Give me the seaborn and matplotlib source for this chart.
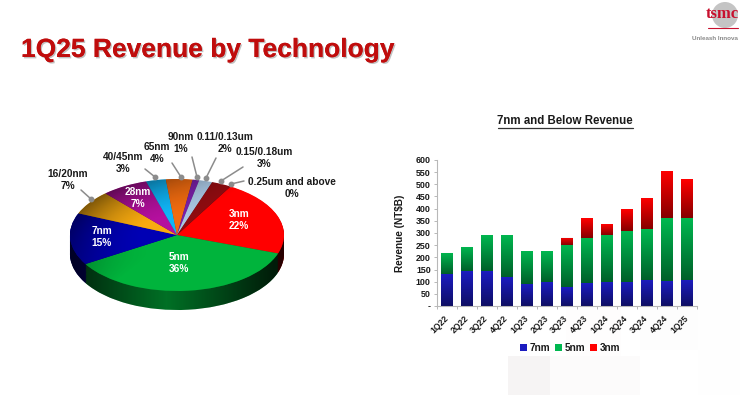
import numpy as np
import pandas as pd
import matplotlib
matplotlib.use('Agg')
import matplotlib.pyplot as plt
import matplotlib.patheffects as pe
from matplotlib.colors import to_rgb
from matplotlib.patches import Rectangle, Circle, Polygon
import seaborn as sns

# pie data, clockwise from the 3nm wedge
nodes = ['3nm', '5nm', '7nm', '16/20nm', '28nm', '40/45nm', '65nm', '90nm',
         '0.11/0.13um', '0.15/0.18um', '0.25um and above']
shares = [22, 36, 15, 7, 7, 3, 4, 1, 2, 3, 0]
node_colors = ['#ff0000', '#00b43c', '#0000b4', '#f8aa10', '#b4109e', '#10b6f8',
               '#f26c10', '#7a20a8', '#a8c6e2', '#8e0c10', '#808080']

# bar data
quarters = ['1Q22', '2Q22', '3Q22', '4Q22', '1Q23', '2Q23', '3Q23',
            '4Q23', '1Q24', '2Q24', '3Q24', '4Q24', '1Q25']
rev_7nm = [130, 142, 142, 118, 90, 97, 77, 93, 100, 100, 108, 104, 107]
rev_5nm = [88, 101, 149, 173, 138, 127, 174, 188, 191, 210, 207, 256, 255]
rev_3nm = [0, 0, 0, 0, 0, 0, 29, 79, 45, 90, 129, 195, 160]

W, H = 740, 395

sns.set_theme(style='white')
plt.rcParams['font.family'] = ['Liberation Sans', 'DejaVu Sans']

fig = plt.figure(figsize=(W / 100, H / 100), dpi=100, facecolor='white')


def px_axes(left, top, right, bottom, **kw):
    return fig.add_axes([left / W, 1 - bottom / H, (right - left) / W, (bottom - top) / H], **kw)


# overlay in pixel coords for slide furniture and labels
bg = px_axes(0, 0, W, H)
bg.set_xlim(0, W)
bg.set_ylim(H, 0)
bg.axis('off')

for x0, y0, w, h, c in [(508, 356, 42, 39, '#f6f4f4'), (550, 356, 90, 39, '#fcfbfb'),
                        (566, 300, 55, 56, '#fefdfd'), (640, 270, 58, 80, '#fdfdfd'),
                        (698, 270, 42, 125, '#fefefe')]:
    bg.add_patch(Rectangle((x0, y0), w, h, fc=c, ec='none', zorder=0))

bg.text(21, 50, '1Q25 Revenue by Technology', color='#c00d0d', fontsize=19, fontweight='bold',
        va='center', ha='left',
        path_effects=[pe.withSimplePatchShadow(offset=(1, -1), shadow_rgbFace='#999999', alpha=0.6), pe.Normal()])

# logo
bg.add_patch(Circle((725, 15), 13, fc='#c4c4c4', ec='none', zorder=1))
bg.text(722, 14, 'tsmc', color='#c8102e', fontsize=12, fontweight='bold', family='Liberation Serif',
        ha='center', va='center', zorder=2)
bg.plot([708, 738], [28, 28], color='#c8102e', lw=0.8)
bg.text(692, 39, 'Unleash Innova', color='#8a8a8a', fontsize=4.5, fontweight='bold', va='center')

# pie, squashed by giving the axes unequal pixel scales
rx, ry = 107, 56
cx, cy = 177, 235
depth = 19 / ry
pie_ax = px_axes(cx - 1.3 * rx, cy - 1.3 * ry, cx + 1.3 * rx, cy + 1.7 * ry)

side_colors = [tuple(0.62 * v for v in to_rgb(c)) for c in node_colors]
for d in np.linspace(depth, 0.01, 24):
    pie_ax.pie(shares, colors=side_colors, startangle=60, counterclock=False, center=(0, -d),
               wedgeprops={'linewidth': 0})

xg, yg = np.meshgrid(np.linspace(-1.05, 1.05, 220), np.linspace(-1.5, 1.05, 220))

# side shading
t = np.linspace(np.pi, 2 * np.pi, 120)
side_poly = np.r_[np.c_[np.cos(t), np.sin(t) - depth], np.c_[np.cos(t[::-1]), np.sin(t[::-1])]]
side_clip = Polygon(side_poly, transform=pie_ax.transData, fc='none', ec='none')
pie_ax.add_patch(side_clip)
shade = np.zeros(xg.shape + (4,))
shade[..., 3] = np.clip(np.abs(xg + 0.1) * 0.75, 0, 0.75)
im = pie_ax.imshow(shade, extent=(-1.05, 1.05, -1.5, 1.05), origin='lower', aspect='auto', zorder=2)
im.set_clip_path(side_clip)

# top face
wedges, _ = pie_ax.pie(shares, colors=node_colors, startangle=60, counterclock=False,
                       wedgeprops={'linewidth': 0})
for w_ in wedges:
    w_.set_zorder(3)

face_clip = Circle((0, 0), 1, transform=pie_ax.transData, fc='none', ec='none')
pie_ax.add_patch(face_clip)
shade2 = np.zeros(xg.shape + (4,))
rr = np.hypot(xg, yg)
shade2[..., 3] = 0.5 * np.clip((rr - 0.35) / 0.65, 0, 1) * np.clip(-0.8 * xg + 0.55 * yg, 0, 1)
im2 = pie_ax.imshow(shade2, extent=(-1.05, 1.05, -1.5, 1.05), origin='lower', aspect='auto', zorder=4)
im2.set_clip_path(face_clip)

pie_ax.set_aspect('auto')
pie_ax.set_xlim(-1.3, 1.3)
pie_ax.set_ylim(-1.7, 1.3)
pie_ax.patch.set_alpha(0)

# label overlay above the pie
lab = px_axes(0, 0, W, H)
lab.set_xlim(0, W)
lab.set_ylim(H, 0)
lab.axis('off')
lab.patch.set_alpha(0)

inner_pos = {'3nm': (239, 220), '5nm': (179, 263), '7nm': (102, 237), '28nm': (138, 198)}
outer_pos = {'16/20nm': (68, 180), '40/45nm': (123, 163), '65nm': (157, 153), '90nm': (181, 143),
             '0.11/0.13um': (225, 143), '0.15/0.18um': (264, 158), '0.25um and above': (292, 188)}
leaders = {'16/20nm': ((81, 190), (91, 199)), '40/45nm': ((145, 169), (155, 177)),
           '65nm': ((172, 163), (181, 177)), '90nm': ((192, 157), (197, 177)),
           '0.11/0.13um': ((216, 158), (206, 178)), '0.15/0.18um': ((243, 167), (221, 181)),
           '0.25um and above': ((244, 181), (231, 184))}

for name, share in zip(nodes, shares):
    s = f'{name}\n{share}%'
    if name in inner_pos:
        x, y = inner_pos[name]
        lab.text(x, y, s, color='white', fontsize=7.3, fontweight='bold', ha='center', va='center', linespacing=1.15)
    else:
        x, y = outer_pos[name]
        lab.text(x, y, s, color='#1a1a1a', fontsize=7.3, fontweight='bold', ha='center', va='center', linespacing=1.15)
        (x0, y0), (x1, y1) = leaders[name]
        lab.plot([x0, x1], [y0, y1], color='#8c8c8c', lw=1.1)
        lab.plot([x1], [y1], 'o', color='#8c8c8c', ms=3.2)

lab.text(565, 121, '7nm and Below Revenue', color='#1a1a1a', fontsize=8.3, fontweight='bold', ha='center', va='center')
lab.plot([498, 633], [127.5, 127.5], color='#333333', lw=0.9)

# stacked bars
ax = px_axes(437, 160, 697, 306)
df = pd.DataFrame({'quarter': quarters, '7nm': rev_7nm, '5nm': rev_5nm, '3nm': rev_3nm})
bar_colors = {'7nm': '#1c1cc0', '5nm': '#00b850', '3nm': '#ff0000'}
bottom = np.zeros(len(quarters))
for name in ['7nm', '5nm', '3nm']:
    sns.barplot(data=df, x='quarter', y=name, color=bar_colors[name], saturation=1, width=0.6,
                bottom=bottom, errorbar=None, ax=ax, label=name, linewidth=0)
    bottom = bottom + df[name].to_numpy()

# dark fade to the bottom of each bar segment
fade = np.zeros((64, 1, 4))
fade[..., 3] = np.linspace(0.48, 0, 64)[:, None]
for cont in ax.containers:
    for bar in cont:
        if bar.get_height() > 0:
            ax.imshow(fade, extent=(bar.get_x(), bar.get_x() + bar.get_width(), bar.get_y(),
                                    bar.get_y() + bar.get_height()),
                      origin='lower', aspect='auto', zorder=3)

ax.set_xlim(-0.5, 12.5)
ax.set_ylim(0, 600)
ax.patch.set_alpha(0)
ax.set_xlabel('')
ax.set_ylabel('Revenue (NT$B)', fontsize=7.2, fontweight='bold', color='#1a1a1a', labelpad=8)
yt = list(range(0, 601, 50))
ax.set_yticks(yt)
ax.set_yticklabels(['-' if v == 0 else str(v) for v in yt], fontsize=6.4, fontweight='bold', color='#1a1a1a')
ax.set_xticks(range(len(quarters)))
ax.set_xticklabels(quarters, fontsize=6.2, fontweight='bold', color='#1a1a1a', rotation=45, ha='right',
                   va='center', rotation_mode='anchor')
ax.set_xticks(np.arange(-0.5, 13, 1), minor=True)
ax.tick_params(axis='x', which='major', length=0, pad=8)
ax.tick_params(axis='x', which='minor', length=2.5, width=0.7, color='#b8b8b8', bottom=True)
ax.tick_params(axis='y', length=2.5, width=0.7, color='#b8b8b8', left=True, pad=2)
sns.despine(ax=ax)
for sp in ['left', 'bottom']:
    ax.spines[sp].set_color('#b8b8b8')
    ax.spines[sp].set_linewidth(0.8)

leg = ax.legend(loc='center', bbox_to_anchor=(133 / 260, -0.29), ncol=3, frameon=False, fontsize=7.2,
                handlelength=0.7, handleheight=0.7, handletextpad=0.3, columnspacing=0.45, borderpad=0)
for t_ in leg.get_texts():
    t_.set_fontweight('bold')
    t_.set_color('#1a1a1a')

fig.savefig('out.png', dpi=100, facecolor='white')
